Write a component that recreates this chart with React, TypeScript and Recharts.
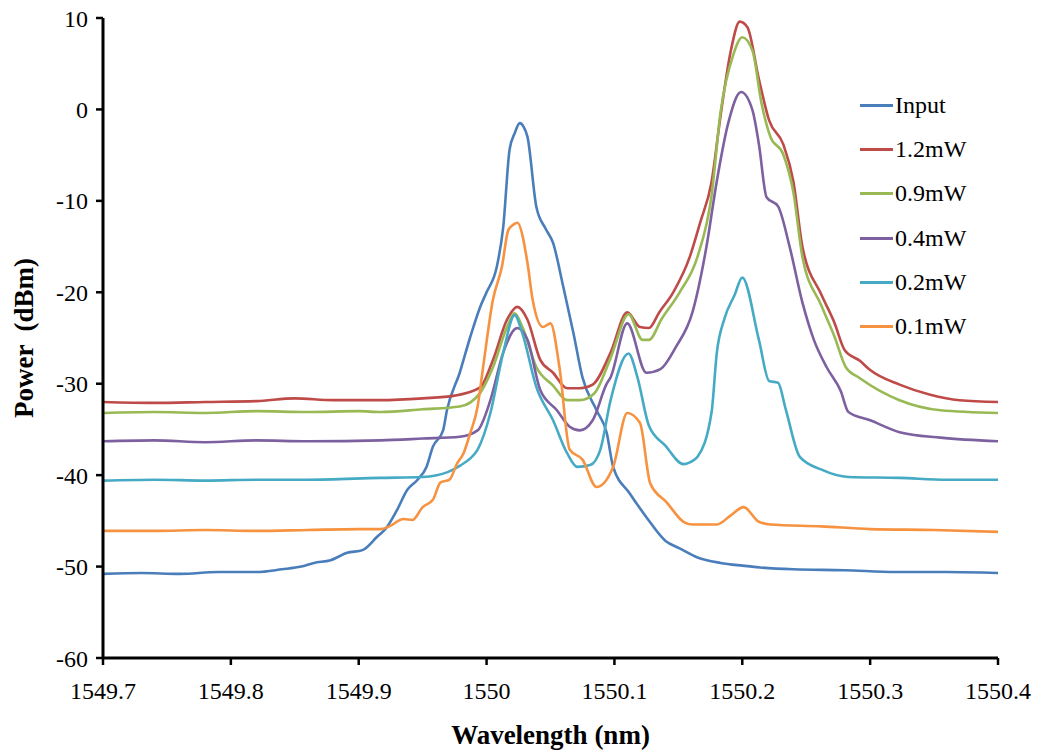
import { LineChart, Line, XAxis, YAxis, Label } from "recharts"

// wavelength (nm) / power (dBm) samples for each trace
const inputWl = [
  1549.7, 1549.73, 1549.76, 1549.79, 1549.82, 1549.84, 1549.855, 1549.865, 1549.878, 1549.891,
  1549.903, 1549.914, 1549.922, 1549.93, 1549.938, 1549.946, 1549.953, 1549.958, 1549.966, 1549.969,
  1549.979, 1549.987, 1549.995, 1550.0, 1550.008, 1550.013, 1550.018, 1550.022, 1550.026, 1550.029,
  1550.032, 1550.039, 1550.046, 1550.052, 1550.06, 1550.068, 1550.075, 1550.086, 1550.094, 1550.099,
  1550.112, 1550.125, 1550.14, 1550.151, 1550.165, 1550.183, 1550.2, 1550.214, 1550.24, 1550.28,
  1550.32, 1550.36, 1550.4,
]
const inputDbm = [
  -50.8, -50.7, -50.8, -50.6, -50.6, -50.3, -50.0, -49.6, -49.3, -48.5,
  -48.2, -46.8, -45.7, -43.8, -41.6, -40.5, -39.1, -36.9, -35.1, -32.9,
  -28.8, -25.0, -21.6, -20.0, -17.2, -12.9, -4.4, -2.6, -1.5, -1.9,
  -3.0, -10.7, -13.0, -14.6, -19.4, -24.5, -29.3, -32.9, -35.4, -39.1,
  -42.0, -44.6, -47.2, -48.0, -49.0, -49.6, -49.9, -50.1, -50.3, -50.4,
  -50.6, -50.6, -50.7,
]

const mw12Wl = [
  1549.7, 1549.74, 1549.78, 1549.82, 1549.85, 1549.88, 1549.917, 1549.95, 1549.975, 1549.995,
  1550.005, 1550.016, 1550.024, 1550.032, 1550.042, 1550.052, 1550.063, 1550.073, 1550.083, 1550.097,
  1550.11, 1550.12, 1550.127, 1550.135, 1550.146, 1550.159, 1550.167, 1550.176, 1550.183, 1550.191,
  1550.198, 1550.204, 1550.213, 1550.221, 1550.232, 1550.24, 1550.247, 1550.262, 1550.272, 1550.28,
  1550.292, 1550.3, 1550.323, 1550.347, 1550.37, 1550.4,
]
const mw12Dbm = [
  -32.0, -32.1, -32.0, -31.9, -31.6, -31.8, -31.8, -31.6, -31.3, -30.4,
  -27.4, -23.0, -21.6, -23.0, -27.4, -28.8, -30.5, -30.5, -30.1, -26.6,
  -22.2, -23.8, -23.9, -22.2, -20.0, -16.1, -12.4, -7.9, -0.7, 6.4,
  9.6, 9.0, 3.3, -1.2, -3.8, -7.9, -15.0, -20.3, -23.3, -26.3,
  -27.5, -28.5, -30.1, -31.2, -31.8, -32.0,
]

const mw09Wl = [
  1549.7, 1549.74, 1549.78, 1549.82, 1549.86, 1549.9, 1549.917, 1549.95, 1549.979, 1549.995,
  1550.005, 1550.016, 1550.022, 1550.028, 1550.039, 1550.052, 1550.063, 1550.073, 1550.084, 1550.097,
  1550.111, 1550.122, 1550.127, 1550.137, 1550.151, 1550.165, 1550.176, 1550.183, 1550.193, 1550.2,
  1550.208, 1550.215, 1550.222, 1550.232, 1550.24, 1550.247, 1550.262, 1550.272, 1550.281, 1550.292,
  1550.323, 1550.355, 1550.4,
]
const mw09Dbm = [
  -33.2, -33.1, -33.2, -33.0, -33.1, -33.0, -33.1, -32.8, -32.5, -31.0,
  -28.2, -23.8, -22.3, -23.8, -28.2, -30.2, -31.8, -31.8, -31.1, -27.2,
  -22.4, -25.2, -25.2, -22.9, -20.0, -16.1, -9.4, -0.3, 6.0, 7.9,
  6.4, 0.7, -3.0, -4.9, -9.1, -16.1, -21.5, -24.8, -28.2, -29.4,
  -31.8, -32.9, -33.2,
]

const mw04Wl = [
  1549.7, 1549.74, 1549.78, 1549.82, 1549.86, 1549.917, 1549.95, 1549.979, 1549.993, 1550.003,
  1550.013, 1550.024, 1550.032, 1550.042, 1550.055, 1550.065, 1550.073, 1550.083, 1550.094, 1550.097,
  1550.11, 1550.125, 1550.136, 1550.148, 1550.161, 1550.172, 1550.18, 1550.189, 1550.199, 1550.208,
  1550.213, 1550.219, 1550.228, 1550.237, 1550.247, 1550.256, 1550.266, 1550.277, 1550.283, 1550.3,
  1550.323, 1550.355, 1550.4,
]
const mw04Dbm = [
  -36.3, -36.2, -36.4, -36.2, -36.3, -36.2, -36.0, -35.8, -35.1, -31.8,
  -26.6, -23.9, -25.2, -30.7, -32.9, -34.7, -35.1, -34.0, -30.0, -29.3,
  -23.4, -28.8, -28.4, -26.0, -22.2, -15.0, -7.9, -1.5, 1.9, -0.1,
  -3.8, -9.6, -10.6, -15.0, -21.1, -25.2, -28.2, -30.8, -33.1, -34.0,
  -35.3, -35.9, -36.3,
]

const mw02Wl = [
  1549.7, 1549.74, 1549.78, 1549.82, 1549.86, 1549.917, 1549.95, 1549.969, 1549.98, 1549.987,
  1549.993, 1550.003, 1550.013, 1550.022, 1550.028, 1550.039, 1550.052, 1550.063, 1550.071, 1550.081,
  1550.089, 1550.097, 1550.111, 1550.118, 1550.127, 1550.14, 1550.154, 1550.159, 1550.165, 1550.176,
  1550.18, 1550.186, 1550.194, 1550.2, 1550.213, 1550.221, 1550.228, 1550.234, 1550.245, 1550.262,
  1550.283, 1550.323, 1550.36, 1550.4,
]
const mw02Dbm = [
  -40.6, -40.5, -40.6, -40.5, -40.5, -40.3, -40.2, -39.7, -38.9, -38.2,
  -37.2, -33.2, -26.6, -22.5, -24.5, -30.4, -34.0, -37.6, -39.1, -38.9,
  -37.2, -31.8, -26.7, -29.3, -34.6, -36.8, -38.8, -38.6, -38.0, -33.1,
  -26.7, -22.9, -20.3, -18.4, -25.2, -29.7, -29.9, -32.8, -38.0, -39.4,
  -40.2, -40.3, -40.5, -40.5,
]

const mw01Wl = [
  1549.7, 1549.74, 1549.78, 1549.82, 1549.86, 1549.9, 1549.917, 1549.924, 1549.935, 1549.942,
  1549.95, 1549.958, 1549.964, 1549.971, 1549.977, 1549.982, 1549.987, 1549.993, 1549.997, 1550.005,
  1550.012, 1550.017, 1550.021, 1550.024, 1550.032, 1550.036, 1550.044, 1550.05, 1550.057, 1550.065,
  1550.075, 1550.086, 1550.099, 1550.11, 1550.12, 1550.128, 1550.141, 1550.154, 1550.161, 1550.18,
  1550.191, 1550.201, 1550.213, 1550.222, 1550.262, 1550.3, 1550.35, 1550.4,
]
const mw01Dbm = [
  -46.1, -46.1, -46.0, -46.1, -46.0, -45.9, -45.9, -45.6, -44.8, -44.9,
  -43.5, -42.7, -40.8, -40.5, -38.7, -37.6, -35.5, -32.5, -28.5, -20.8,
  -17.2, -13.2, -12.6, -12.4, -16.8, -20.8, -23.8, -23.4, -28.2, -37.2,
  -38.3, -41.3, -39.1, -33.2, -34.3, -40.9, -43.0, -45.1, -45.4, -45.4,
  -44.4, -43.5, -45.1, -45.4, -45.6, -45.9, -46.0, -46.2,
]

const xTicks = [1549.7, 1549.8, 1549.9, 1550, 1550.1, 1550.2, 1550.3, 1550.4]
const yTicks = [-60, -50, -40, -30, -20, -10, 0, 10]

const toPoints = (wl: number[], dbm: number[]) => wl.map((w, i) => ({ wl: w, dbm: dbm[i] }))

const series = [
  { name: "Input", color: "#4A7EBB", data: toPoints(inputWl, inputDbm) },
  { name: "1.2mW", color: "#BE4B48", data: toPoints(mw12Wl, mw12Dbm) },
  { name: "0.9mW", color: "#98B954", data: toPoints(mw09Wl, mw09Dbm) },
  { name: "0.4mW", color: "#7D60A0", data: toPoints(mw04Wl, mw04Dbm) },
  { name: "0.2mW", color: "#46AAC5", data: toPoints(mw02Wl, mw02Dbm) },
  { name: "0.1mW", color: "#F69240", data: toPoints(mw01Wl, mw01Dbm) },
]

const FONT = "Liberation Serif, Times New Roman, serif"

const axisTick = { fill: "#000", fontSize: 24, fontFamily: FONT }

// legend sits inside the plot, upper right, so it is drawn as a plain overlay
function LegendBox() {
  return (
    <div style={{ position: "absolute", left: 860, top: 83, fontFamily: FONT, fontSize: 24, color: "#000" }}>
      {series.map((s) => (
        <div key={s.name} style={{ display: "flex", alignItems: "center", height: 44.3 }}>
          <span style={{ display: "inline-block", width: 33, height: 3, background: s.color }} />
          <span style={{ marginLeft: 2 }}>{s.name}</span>
        </div>
      ))}
    </div>
  )
}

export default function App() {
  return (
    <div style={{ position: "absolute", left: 0, top: 0, width: 1052, height: 756, background: "#fff" }}>
      <LineChart width={1052} height={756} margin={{ top: 18, right: 54, bottom: 58, left: 33 }}>
        <XAxis
          dataKey="wl"
          type="number"
          domain={[1549.7, 1550.4]}
          ticks={xTicks}
          allowDataOverflow
          height={40}
          tick={axisTick}
          tickSize={7}
          tickMargin={17}
          axisLine={{ stroke: "#000", strokeWidth: 3 }}
          tickLine={{ stroke: "#000", strokeWidth: 2.5 }}
        >
          <Label
            content={({ viewBox }: any) => (
              <text
                x={viewBox.x + viewBox.width / 2}
                y={viewBox.y + 86}
                textAnchor="middle"
                fontFamily={FONT}
                fontWeight="bold"
                fontSize={27}
                fill="#000"
              >
                Wavelength (nm)
              </text>
            )}
          />
        </XAxis>
        <YAxis
          dataKey="dbm"
          type="number"
          domain={[-60, 10]}
          ticks={yTicks}
          allowDataOverflow
          width={70}
          tick={axisTick}
          tickSize={7}
          tickMargin={8}
          axisLine={{ stroke: "#000", strokeWidth: 3 }}
          tickLine={{ stroke: "#000", strokeWidth: 2.5 }}
        >
          <Label
            content={({ viewBox }: any) => {
              const cx = viewBox.x - 9
              const cy = viewBox.y + viewBox.height / 2
              return (
                <text
                  x={cx}
                  y={cy}
                  transform={`rotate(-90 ${cx} ${cy})`}
                  textAnchor="middle"
                  dominantBaseline="central"
                  fontFamily={FONT}
                  fontWeight="bold"
                  fontSize={27}
                  fill="#000"
                  style={{ whiteSpace: "pre" }}
                >
                  {"Power  (dBm)"}
                </text>
              )
            }}
          />
        </YAxis>
        {series.map((s) => (
          <Line
            key={s.name}
            data={s.data}
            dataKey="dbm"
            name={s.name}
            type="monotone"
            stroke={s.color}
            strokeWidth={2.6}
            dot={false}
            isAnimationActive={false}
          />
        ))}
      </LineChart>
      <LegendBox />
    </div>
  )
}
